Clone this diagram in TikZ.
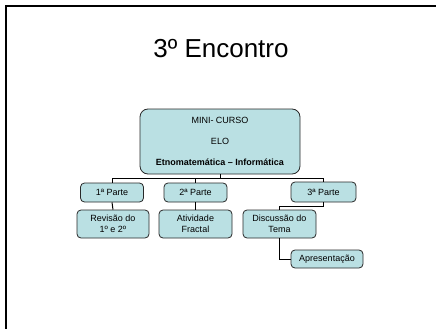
\documentclass[tikz,border=0pt]{standalone}
\usepackage{fontspec}
\setmainfont{Liberation Sans}
\definecolor{boxfill}{RGB}{186,224,227}
\definecolor{boxline}{RGB}{40,40,40}
\begin{document}
\begin{tikzpicture}[x=1pt,y=-1pt,
  box/.style={draw=boxline, line width=0.8pt, fill=boxfill, rounded corners=4pt,
    inner sep=0pt, align=center, font=\fontsize{9}{10.5}\selectfont},
  conn/.style={draw=black, line width=1pt}]
\useasboundingbox (0,0) rectangle (436,329);
\draw[line width=2pt] (6,329) -- (6,6) -- (436,6);
\node[anchor=base, font=\fontsize{26}{30}\selectfont] (title) at (221,58) {3º Encontro};
\node[box, rounded corners=8pt, minimum width=160pt, minimum height=65pt] (top) at (220,141.5)
  {MINI- CURSO\\[10.5pt] ELO\\[10.5pt] \textbf{Etnomatemática – Informática}};
\node[box, minimum width=63pt, minimum height=19pt] (p1) at (112,192.5) {1ª Parte};
\node[box, minimum width=63pt, minimum height=19pt] (p2) at (195.5,192.5) {2ª Parte};
\node[box, minimum width=65pt, minimum height=20pt] (p3) at (323.5,192) {3ª Parte};
\node[box, minimum width=72pt, minimum height=28pt] (d1) at (113,224) {Revisão do\\1º e 2º};
\node[box, minimum width=73pt, minimum height=28pt] (d2) at (195.5,224) {Atividade\\Fractal};
\node[box, minimum width=73pt, minimum height=28pt] (d3) at (279.5,224) {Discussão do\\Tema};
\node[box, minimum width=72pt, minimum height=18pt] (ap) at (327,259) {Apresentação};
\draw[conn] (top.south) -- ++(0,4) -| (p1.north);
\draw[conn] (top.south) -- ++(0,4) -| (p2.north);
\draw[conn] (top.south) -- ++(0,4) -| (p3.north);
\draw[conn] (p1.south) -- (d1.north);
\draw[conn] (p2.south) -- (d2.north);
\draw[conn] (p3.south) -- ++(0,4) -| (d3.north);
\draw[conn] (d3.south) |- (ap.west);
\end{tikzpicture}
\end{document}
